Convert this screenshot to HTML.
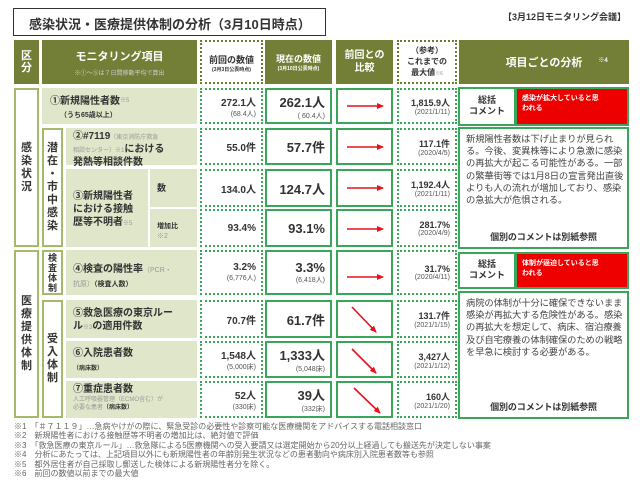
<!DOCTYPE html>
<html><head><meta charset="utf-8">
<style>
*{margin:0;padding:0;box-sizing:border-box}
body{width:640px;height:480px;background:#fff;position:relative;overflow:hidden;font-family:"Liberation Sans","Noto Sans CJK JP",sans-serif;color:#333}
.a{position:absolute}
.h{background:#737f36;color:#fff;font-weight:bold;display:flex;flex-direction:column;align-items:center;justify-content:center;text-align:center}
.lg{background:#dfe6c9;color:#333;font-weight:bold}
.ol{border:2px solid #a5b96a;background:#fff;display:flex;align-items:center;justify-content:center;font-weight:bold;font-size:11px;line-height:13px;text-align:center}
.dot{border:2px dotted #3aa65a;background:#fff;text-align:right;padding-right:5px;font-weight:bold}
.sol{border:2px solid #3aa65a;background:#fff;text-align:right;padding-right:5px;font-weight:bold}
.v1{font-size:10px;display:flex;flex-direction:column;justify-content:center}
.v2{font-size:13px;display:flex;flex-direction:column;justify-content:center}
.s{font-size:7px;font-weight:normal;color:#555}
.g{color:#999;font-weight:normal}
.fn{font-size:8px;color:#666;left:14px;white-space:nowrap}
.tx{font-size:9.3px;line-height:12.2px;padding:4px 2px 0 6px;color:#444;letter-spacing:-0.1px}
</style></head><body>
<div class="a" style="left:13px;top:8px;width:313px;height:28px;border:1.5px solid #333;font-size:13px;font-weight:bold;padding:5px 0 0 15px">感染状況・医療提供体制の分析（3月10日時点）</div>
<div class="a" style="left:503px;top:10px;font-size:9px;font-weight:bold">【3月12日モニタリング会議】</div>

<div class="a h" style="left:14px;top:40px;width:25px;height:44px;font-size:11px;line-height:12px">区<br>分</div>
<div class="a h" style="left:42px;top:40px;width:155px;height:44px;font-size:11px">モニタリング項目<span style="font-size:6px;font-weight:normal;color:#ccd;margin-top:4px">※①～⑤は７日間移動平均で算出</span></div>
<div class="a" style="left:200px;top:40px;width:63px;height:44px;border:2px dotted #6a7d2e;text-align:center;font-weight:bold;font-size:9px;padding-top:11px">前回の数値<div style="font-size:5px">(3月3日公表時点)</div></div>
<div class="a h" style="left:265px;top:40px;width:67px;height:44px;font-size:9px">現在の数値<span style="font-size:5px">(3月10日公表時点)</span></div>
<div class="a h" style="left:336px;top:40px;width:57px;height:44px;font-size:10px;line-height:13px">前回との<br>比較</div>
<div class="a" style="left:397px;top:40px;width:60px;height:44px;border:2px dotted #6a7d2e;text-align:center;font-weight:bold;font-size:8px;line-height:11px;padding-top:3px">（参考）<br>これまでの<br>最大値<span class="g" style="font-size:5px">※6</span></div>
<div class="a h" style="left:459px;top:40px;width:170px;height:44px;font-size:11px">項目ごとの分析<span style="font-size:6px;position:absolute;margin-left:118px;margin-top:-6px">※4</span></div>

<div class="a ol" style="left:14px;top:88px;width:25px;height:159px">感<br>染<br>状<br>況</div>
<div class="a ol" style="left:42px;top:128px;width:21px;height:119px">潜<br>在<br>・<br>市<br>中<br>感<br>染</div>
<div class="a ol" style="left:14px;top:250px;width:25px;height:168px">医<br>療<br>提<br>供<br>体<br>制</div>
<div class="a ol" style="left:42px;top:250px;width:21px;height:45px;font-size:9px;line-height:10px">検<br>査<br>体<br>制</div>
<div class="a ol" style="left:42px;top:300px;width:21px;height:118px">受<br>入<br>体<br>制</div>

<div class="a lg" style="left:42px;top:88px;width:155px;height:36px;font-size:10px;padding:7px 0 0 8px;line-height:13px">①新規陽性者数<span class="g" style="font-size:6px;vertical-align:top">※5</span><br><span style="font-size:7px;padding-left:10px">（うち65歳以上）</span></div>
<div class="a lg" style="left:66px;top:128px;width:131px;height:37px;font-size:10px;padding:3px 0 0 7px;line-height:11px">②#7119<span class="g" style="font-size:6px">（東京消防庁救急</span><br><span class="g" style="font-size:6px">相談センター）※1</span>における<br>発熱等相談件数</div>
<div class="a lg" style="left:66px;top:169px;width:82px;height:78px;font-size:10px;padding:21px 0 0 7px;line-height:13px">③新規陽性者<br>における接触<br>歴等不明者<span class="g" style="font-size:6px">※5</span></div>
<div class="a lg" style="left:150px;top:169px;width:47px;height:38px;font-size:9px;padding:12px 0 0 7px">数</div>
<div class="a lg" style="left:150px;top:209px;width:47px;height:38px;font-size:7px;padding:13px 0 0 7px;line-height:10px">増加比<br><span class="g">※2</span></div>
<div class="a lg" style="left:66px;top:250px;width:131px;height:45px;font-size:10px;padding:13px 0 0 7px;line-height:13px">④検査の陽性率<span class="g" style="font-size:7px">（PCR・</span><br><span style="font-size:7px"><span class="g">抗原）</span>（検査人数）</span></div>
<div class="a lg" style="left:66px;top:300px;width:131px;height:38px;font-size:10px;padding:7px 0 0 7px;line-height:13px">⑤救急医療の東京ルー<br>ル<span class="g" style="font-size:6px">※3</span>の適用件数</div>
<div class="a lg" style="left:66px;top:341px;width:131px;height:37px;font-size:10px;padding:6px 0 0 7px;line-height:14px">⑥入院患者数<br><span style="font-size:6px">（病床数）</span></div>
<div class="a lg" style="left:66px;top:381px;width:131px;height:37px;font-size:10px;padding:3px 0 0 7px;line-height:12px">⑦重症患者数<br><span style="font-size:6px;line-height:8px;display:block"><span class="g">人工呼吸器管理（ECMO含む）が<br>必要な患者</span>（病床数）</span></div>

<div class="a dot v1" style="left:200px;top:88px;width:63px;height:36px">272.1人<span class="s">(68.4人)</span></div>
<div class="a dot v1" style="left:200px;top:128px;width:63px;height:37px">55.0件</div>
<div class="a dot v1" style="left:200px;top:169px;width:63px;height:38px">134.0人</div>
<div class="a dot v1" style="left:200px;top:209px;width:63px;height:38px">93.4%</div>
<div class="a dot v1" style="left:200px;top:250px;width:63px;height:45px">3.2%<span class="s">(6,776人)</span></div>
<div class="a dot v1" style="left:200px;top:300px;width:63px;height:38px">70.7件</div>
<div class="a dot v1" style="left:200px;top:341px;width:63px;height:37px">1,548人<span class="s">(5,000床)</span></div>
<div class="a dot v1" style="left:200px;top:381px;width:63px;height:37px">52人<span class="s">(330床)</span></div>

<div class="a sol v2" style="left:265px;top:88px;width:67px;height:36px">262.1人<span class="s">( 60.4人)</span></div>
<div class="a sol v2" style="left:265px;top:128px;width:67px;height:37px">57.7件</div>
<div class="a sol v2" style="left:265px;top:169px;width:67px;height:38px">124.7人</div>
<div class="a sol v2" style="left:265px;top:209px;width:67px;height:38px">93.1%</div>
<div class="a sol v2" style="left:265px;top:250px;width:67px;height:45px">3.3%<span class="s">(6,418人)</span></div>
<div class="a sol v2" style="left:265px;top:300px;width:67px;height:38px">61.7件</div>
<div class="a sol v2" style="left:265px;top:341px;width:67px;height:37px">1,333人<span class="s">(5,048床)</span></div>
<div class="a sol v2" style="left:265px;top:381px;width:67px;height:37px">39人<span class="s">(332床)</span></div>

<svg class="a" style="left:0;top:0" width="640" height="480">
<defs><marker id="m" markerUnits="userSpaceOnUse" markerWidth="7" markerHeight="6" refX="6" refY="3" orient="auto"><path d="M0,0 L7,3 L0,6 z" fill="#e4141b"/></marker></defs>
<g fill="#fff" stroke="#3aa65a" stroke-width="2">
<rect x="337" y="89" width="55" height="34"/><rect x="337" y="129" width="55" height="35"/><rect x="337" y="170" width="55" height="36"/><rect x="337" y="210" width="55" height="36"/><rect x="337" y="251" width="55" height="43"/><rect x="337" y="301" width="55" height="36"/><rect x="337" y="342" width="55" height="35"/><rect x="337" y="382" width="55" height="35"/>
</g>
<g stroke="#e4141b" stroke-width="1.6" marker-end="url(#m)">
<line x1="347" y1="106" x2="383" y2="106"/><line x1="347" y1="147" x2="383" y2="147"/><line x1="347" y1="188" x2="383" y2="188"/><line x1="347" y1="229" x2="383" y2="229"/><line x1="347" y1="277" x2="383" y2="277"/>
<line x1="352" y1="307" x2="376" y2="332"/><line x1="352" y1="349" x2="376" y2="373"/><line x1="354" y1="388" x2="380" y2="413"/>
</g>
</svg>

<div class="a dot v1" style="left:397px;top:88px;width:60px;height:36px;font-size:9px">1,815.9人<span class="s">(2021/1/11)</span></div>
<div class="a dot v1" style="left:397px;top:128px;width:60px;height:37px;font-size:9px">117.1件<span class="s">(2020/4/5)</span></div>
<div class="a dot v1" style="left:397px;top:169px;width:60px;height:38px;font-size:9px">1,192.4人<span class="s">(2021/1/11)</span></div>
<div class="a dot v1" style="left:397px;top:209px;width:60px;height:38px;font-size:9px">281.7%<span class="s">(2020/4/9)</span></div>
<div class="a dot v1" style="left:397px;top:250px;width:60px;height:45px;font-size:9px">31.7%<span class="s">(2020/4/11)</span></div>
<div class="a dot v1" style="left:397px;top:300px;width:60px;height:38px;font-size:9px">131.7件<span class="s">(2021/1/15)</span></div>
<div class="a dot v1" style="left:397px;top:341px;width:60px;height:37px;font-size:9px">3,427人<span class="s">(2021/1/12)</span></div>
<div class="a dot v1" style="left:397px;top:381px;width:60px;height:37px;font-size:9px">160人<span class="s">(2021/1/20)</span></div>

<div class="a" style="left:458px;top:87px;width:171px;height:39px;background:#3aa65a"></div>
<div class="a" style="left:460px;top:89px;width:54px;height:35px;background:#fff;font-size:9px;font-weight:bold;text-align:center;line-height:11px;padding-top:6px">総括<br>コメント</div>
<div class="a" style="left:517px;top:89px;width:110px;height:35px;background:#ee0000;color:#fff;font-size:7px;font-weight:bold;padding:5px 0 0 5px;line-height:10px">感染が拡大していると思<br>われる</div>
<div class="a tx" style="left:458px;top:127px;width:171px;height:122px;border:2px solid #3aa65a;background:#fff">新規陽性者数は下げ止まりが見られる。今後、変異株等により急激に感染の再拡大が起こる可能性がある。一部の繁華街等では1月8日の宣言発出直後よりも人の流れが増加しており、感染の急拡大が危惧される。<div style="position:absolute;left:0;width:100%;top:102px;text-align:center;font-weight:bold;font-size:9px;color:#333">個別のコメントは別紙参照</div></div>
<div class="a" style="left:458px;top:252px;width:171px;height:37px;background:#3aa65a"></div>
<div class="a" style="left:460px;top:254px;width:54px;height:33px;background:#fff;font-size:9px;font-weight:bold;text-align:center;line-height:11px;padding-top:5px">総括<br>コメント</div>
<div class="a" style="left:517px;top:254px;width:110px;height:33px;background:#ee0000;color:#fff;font-size:7px;font-weight:bold;padding:5px 0 0 5px;line-height:10px">体制が逼迫していると思<br>われる</div>
<div class="a tx" style="left:458px;top:291px;width:171px;height:128px;border:2px solid #3aa65a;background:#fff">病院の体制が十分に確保できないまま感染が再拡大する危険性がある。感染の再拡大を想定して、病床、宿泊療養及び自宅療養の体制確保のための戦略を早急に検討する必要がある。<div style="position:absolute;left:0;width:100%;top:108px;text-align:center;font-weight:bold;font-size:9px;color:#333">個別のコメントは別紙参照</div></div>

<div class="a fn" style="top:421px">※1　「＃７１１９」…急病やけがの際に、緊急受診の必要性や診察可能な医療機関をアドバイスする電話相談窓口</div>
<div class="a fn" style="top:430px">※2　新規陽性者における接触歴等不明者の増加比は、絶対値で評価</div>
<div class="a fn" style="top:440px">※3　「救急医療の東京ルール」…救急隊による5医療機関への受入要請又は選定開始から20分以上経過しても搬送先が決定しない事案</div>
<div class="a fn" style="top:449px">※4　分析にあたっては、上記項目以外にも新規陽性者の年齢別発生状況などの患者動向や病床別入院患者数等も参照</div>
<div class="a fn" style="top:459px">※5　都外居住者が自己採取し郵送した検体による新規陽性者分を除く。</div>
<div class="a fn" style="top:468px">※6　前回の数値以前までの最大値</div>
</body></html>
